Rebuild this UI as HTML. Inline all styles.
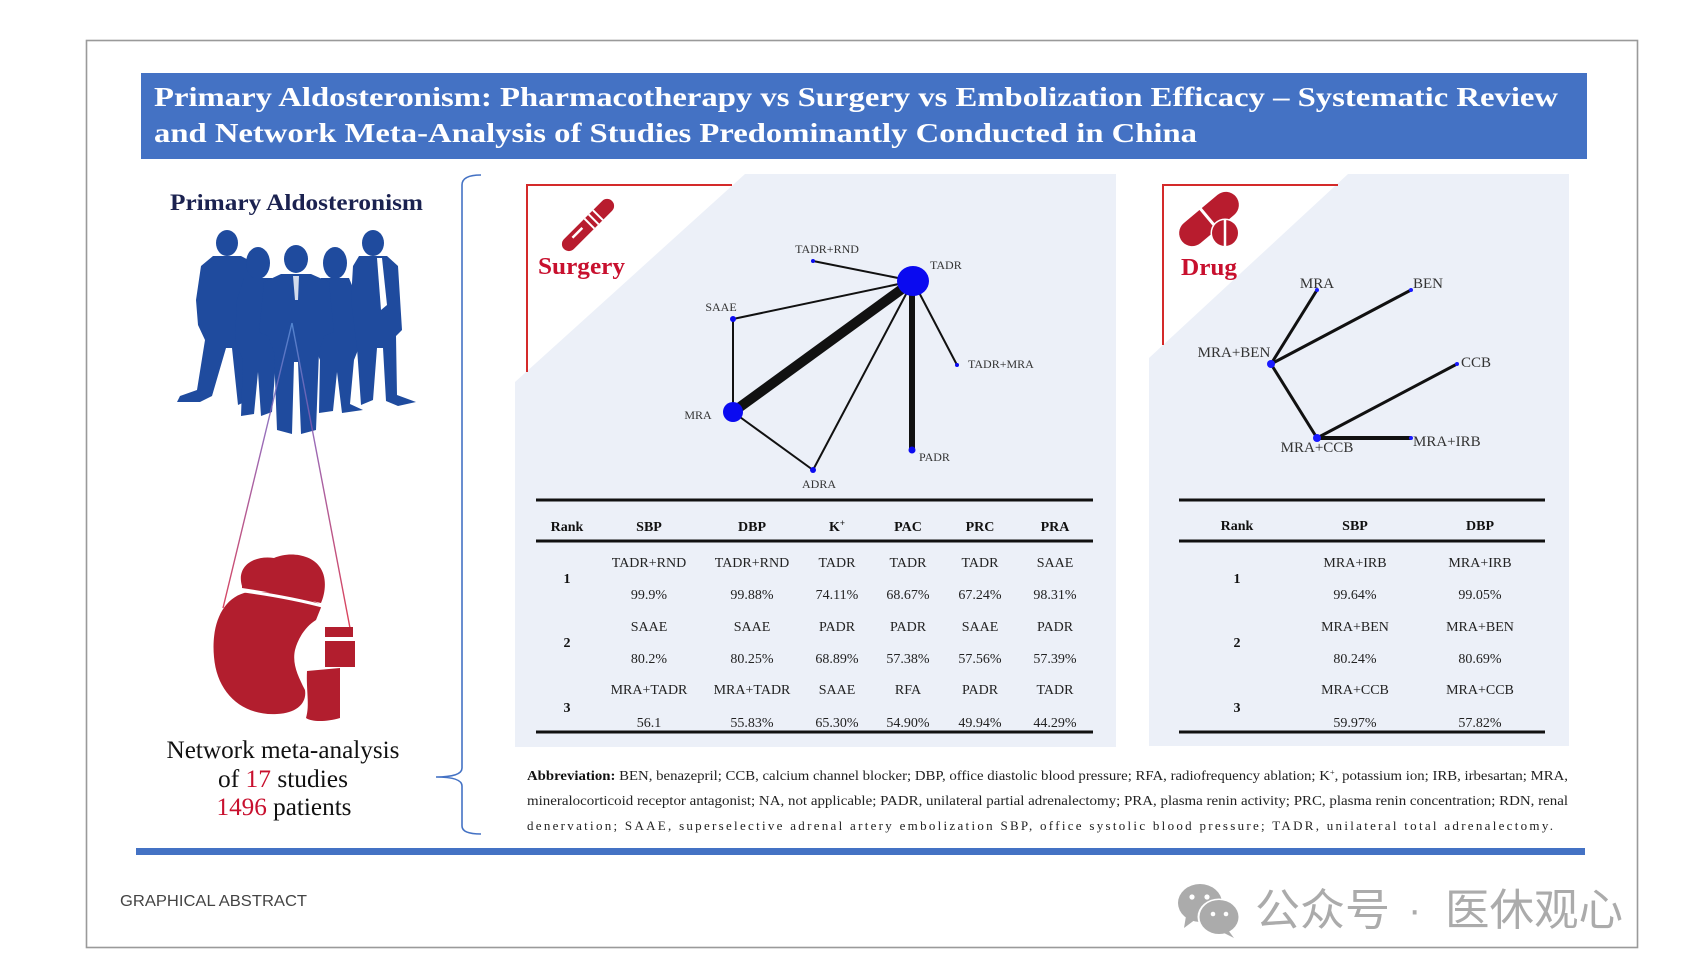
<!DOCTYPE html>
<html><head><meta charset="utf-8"><style>
html,body{margin:0;padding:0;background:#fff;}
svg{display:block;}
.serif{font-family:"Liberation Serif","Times New Roman",serif;}
</style></head><body>
<svg width="1683" height="977" viewBox="0 0 1683 977" xmlns="http://www.w3.org/2000/svg">
<defs>
<linearGradient id="lg" x1="0" y1="0" x2="0" y2="1">
<stop offset="0" stop-color="#5b8fd8"/><stop offset="0.4" stop-color="#8a4fa8"/><stop offset="1" stop-color="#d8203a"/>
</linearGradient>
</defs>
<rect x="0" y="0" width="1683" height="977" fill="#fff"/>
<rect x="86.5" y="40.5" width="1551" height="907" fill="none" stroke="#9a9a9a" stroke-width="1.6"/>

<rect x="141" y="73" width="1446" height="86" fill="#4472c4"/>
<g class="serif" font-weight="bold" fill="#fff" font-size="27">
<text x="154" y="106" textLength="1404" lengthAdjust="spacingAndGlyphs">Primary Aldosteronism: Pharmacotherapy vs Surgery vs Embolization Efficacy – Systematic Review</text>
<text x="154" y="142" textLength="1043" lengthAdjust="spacingAndGlyphs">and Network Meta-Analysis of Studies Predominantly Conducted in China</text>
</g>

<text class="serif" x="170" y="210" font-size="23" font-weight="bold" fill="#1b2250" textLength="253" lengthAdjust="spacingAndGlyphs">Primary Aldosteronism</text>

<g fill="#1f4b9e">
<ellipse cx="227" cy="243" rx="11" ry="13"/>
<path d="M213 256 L241 256 L256 264 L261 300 L257 340 L251 346 L249 400 L238 405 L232 348 L226 348 L212 396 L200 402 L177 402 L180 396 L197 390 L205 340 L198 325 L196 300 L201 266 Z"/>
<ellipse cx="258" cy="263" rx="12" ry="16"/>
<path d="M244 278 L272 278 L281 300 L284 340 L276 360 L272 412 L261 416 L258 372 L254 414 L241 416 L243 360 L235 340 L237 300 Z"/>
<ellipse cx="335" cy="263" rx="12" ry="16"/>
<path d="M321 278 L349 278 L358 300 L362 340 L354 360 L350 404 L363 410 L342 413 L337 372 L333 411 L319 413 L320 360 L312 340 L314 300 Z"/>
<ellipse cx="373" cy="243" rx="11" ry="13"/>
<path d="M359 256 L387 256 L398 266 L402 330 L396 336 L397 395 L416 402 L398 406 L386 401 L383 348 L377 348 L373 400 L361 405 L357 348 L351 300 L353 266 Z"/>
<ellipse cx="296" cy="259" rx="12" ry="14"/>
<path d="M281 274 L311 274 L329 282 L334 332 L324 336 L319 352 L316 430 L301 434 L298 362 L294 362 L292 434 L277 430 L274 352 L268 336 L259 332 L264 282 Z"/>
</g>
<path d="M377 258 L382 258 L387 305 L381 310 Z" fill="#fff"/>
<path d="M293 276 L299 276 L298 300 L295 300 Z" fill="#fff" opacity="0.8"/>

<path d="M292 323 L223 608 M292 323 L350 628" stroke="url(#lg)" stroke-width="1.4" fill="none" opacity="0.85"/>

<g fill="#b21e2e">
<path d="M248 592 C 222 597 211 625 214 657 C 217 693 242 716 277 714 C 297 713 307 703 305 690 C 298 676 292 664 295 650 C 298 638 306 626 316 620 L 322 605 C 308 598 280 591 248 592 Z"/>
<path d="M242 586 C 236 566 254 555 274 558 C 290 551 311 555 319 566 C 328 577 325 594 321 603 C 300 598 270 592 242 588 Z"/>
<rect x="325" y="627" width="28" height="10"/>
<rect x="325" y="641" width="30" height="26"/>
<path d="M307 671 L340 668 L340 718 C 326 722 312 722 306 718 C 310 705 306 690 307 671 Z"/>
</g>
<path d="M236 590 C 268 594 300 600 326 607" stroke="#fff" stroke-width="3" fill="none"/>
<path d="M300 648 C 308 640 316 652 318 668" stroke="#fff" stroke-width="3" fill="none"/>

<g class="serif" font-size="25" fill="#111" text-anchor="middle">
<text x="283" y="758" textLength="233" lengthAdjust="spacingAndGlyphs">Network meta-analysis</text>
<text x="283" y="787" textLength="130" lengthAdjust="spacingAndGlyphs">of <tspan fill="#c8102e">17</tspan> studies</text>
<text x="284" y="815" textLength="135" lengthAdjust="spacingAndGlyphs"><tspan fill="#c8102e">1496</tspan> patients</text>
</g>

<path d="M481 175 Q 462 175 462 185 L462 768 Q 462 777 436 777 Q 462 777 462 786 L462 826 Q 462 834 481 834" fill="none" stroke="#4472c4" stroke-width="1.6"/>

<polygon points="745,174 1116,174 1116,747 515,747 515,382" fill="#ecf0f8"/>
<path d="M527 372 L527 185 L732 185" fill="none" stroke="#d42a2a" stroke-width="2"/>
<g transform="translate(588,225) rotate(-45)">
<rect x="-34" y="-7" width="68" height="14" rx="7" fill="#b81c2e"/>
<path d="M2 -7 L2 7 M8 -7 L8 7 M14 -7 L14 7" stroke="#fff" stroke-width="2"/>
<path d="M-20 -2 L-6 -2" stroke="#fff" stroke-width="2.5"/>
</g>
<text class="serif" x="538" y="274" font-size="24" font-weight="bold" fill="#c8102e" textLength="87" lengthAdjust="spacingAndGlyphs">Surgery</text>

<g stroke="#111" fill="none" stroke-linecap="round">
<line x1="913" y1="281" x2="813" y2="261" stroke-width="2"/>
<line x1="913" y1="281" x2="733" y2="319" stroke-width="2"/>
<line x1="913" y1="281" x2="733" y2="412" stroke-width="10" stroke-linecap="butt"/>
<line x1="913" y1="281" x2="813" y2="470" stroke-width="2"/>
<line x1="912" y1="281" x2="912" y2="450" stroke-width="6" stroke-linecap="butt"/>
<line x1="913" y1="281" x2="957" y2="365" stroke-width="2"/>
<line x1="733" y1="319" x2="733" y2="412" stroke-width="2"/>
<line x1="733" y1="412" x2="813" y2="470" stroke-width="2"/>
</g>
<g fill="#0a0af0">
<ellipse cx="913" cy="281" rx="16" ry="15"/>
<circle cx="733" cy="412" r="10"/>
<circle cx="813" cy="261" r="2"/>
<circle cx="733" cy="319" r="3"/>
<circle cx="957" cy="365" r="2"/>
<circle cx="912" cy="450" r="3.5"/>
<circle cx="813" cy="470" r="3"/>
</g>
<g class="serif" font-size="12" fill="#333">
<text x="827" y="253" text-anchor="middle">TADR+RND</text>
<text x="930" y="269">TADR</text>
<text x="721" y="311" text-anchor="middle">SAAE</text>
<text x="968" y="368">TADR+MRA</text>
<text x="698" y="419" text-anchor="middle">MRA</text>
<text x="919" y="461">PADR</text>
<text x="819" y="488" text-anchor="middle">ADRA</text>
</g>

<g stroke="#111" stroke-width="3">
<line x1="536" y1="500" x2="1093" y2="500"/>
<line x1="536" y1="541" x2="1093" y2="541"/>
<line x1="536" y1="732" x2="1093" y2="732"/>
</g>
<g class="serif" font-size="14" font-weight="bold" fill="#111" text-anchor="middle">
<text x="567" y="531">Rank</text>
<text x="649" y="531">SBP</text>
<text x="752" y="531">DBP</text>
<text x="837" y="531">K<tspan font-size="9" dy="-5">+</tspan></text>
<text x="908" y="531">PAC</text>
<text x="980" y="531">PRC</text>
<text x="1055" y="531">PRA</text>
<text x="567" y="583">1</text>
<text x="567" y="647">2</text>
<text x="567" y="712">3</text>
</g>
<g class="serif" font-size="14" fill="#222" text-anchor="middle">
<text x="649" y="567">TADR+RND</text><text x="752" y="567">TADR+RND</text><text x="837" y="567">TADR</text><text x="908" y="567">TADR</text><text x="980" y="567">TADR</text><text x="1055" y="567">SAAE</text>
<text x="649" y="599">99.9%</text><text x="752" y="599">99.88%</text><text x="837" y="599">74.11%</text><text x="908" y="599">68.67%</text><text x="980" y="599">67.24%</text><text x="1055" y="599">98.31%</text>
<text x="649" y="631">SAAE</text><text x="752" y="631">SAAE</text><text x="837" y="631">PADR</text><text x="908" y="631">PADR</text><text x="980" y="631">SAAE</text><text x="1055" y="631">PADR</text>
<text x="649" y="663">80.2%</text><text x="752" y="663">80.25%</text><text x="837" y="663">68.89%</text><text x="908" y="663">57.38%</text><text x="980" y="663">57.56%</text><text x="1055" y="663">57.39%</text>
<text x="649" y="694">MRA+TADR</text><text x="752" y="694">MRA+TADR</text><text x="837" y="694">SAAE</text><text x="908" y="694">RFA</text><text x="980" y="694">PADR</text><text x="1055" y="694">TADR</text>
<text x="649" y="727">56.1</text><text x="752" y="727">55.83%</text><text x="837" y="727">65.30%</text><text x="908" y="727">54.90%</text><text x="980" y="727">49.94%</text><text x="1055" y="727">44.29%</text>
</g>

<polygon points="1348,174 1569,174 1569,746 1149,746 1149,358" fill="#ecf0f8"/>
<path d="M1163 345 L1163 185 L1338 185" fill="none" stroke="#d42a2a" stroke-width="2"/>
<g transform="translate(1209,219) rotate(-40)">
<rect x="-35" y="-13" width="70" height="26" rx="13" fill="#b81c2e"/>
<line x1="0" y1="-14" x2="0" y2="14" stroke="#fff" stroke-width="3"/>
</g>
<circle cx="1225" cy="233" r="14.5" fill="#fff"/>
<circle cx="1225" cy="233" r="13" fill="#b81c2e"/>
<line x1="1225" y1="220" x2="1225" y2="246" stroke="#fff" stroke-width="2.5"/>
<text class="serif" x="1181" y="275" font-size="24" font-weight="bold" fill="#c8102e" textLength="56" lengthAdjust="spacingAndGlyphs">Drug</text>

<g stroke="#111" stroke-width="3" fill="none">
<line x1="1271" y1="364" x2="1317" y2="290"/>
<line x1="1271" y1="364" x2="1411" y2="290"/>
<line x1="1271" y1="364" x2="1317" y2="438"/>
<line x1="1317" y1="438" x2="1457" y2="364"/>
<line x1="1317" y1="438" x2="1411" y2="438" stroke-width="4"/>
</g>
<g fill="#1a1aff">
<circle cx="1271" cy="364" r="4"/>
<circle cx="1317" cy="438" r="4"/>
<circle cx="1317" cy="290" r="2"/>
<circle cx="1411" cy="290" r="2"/>
<circle cx="1457" cy="364" r="2"/>
<circle cx="1411" cy="438" r="2"/>
</g>
<g class="serif" font-size="15" fill="#333">
<text x="1317" y="288" text-anchor="middle">MRA</text>
<text x="1413" y="288">BEN</text>
<text x="1234" y="357" text-anchor="middle">MRA+BEN</text>
<text x="1461" y="367">CCB</text>
<text x="1317" y="452" text-anchor="middle">MRA+CCB</text>
<text x="1413" y="446">MRA+IRB</text>
</g>

<g stroke="#111" stroke-width="3">
<line x1="1179" y1="500" x2="1545" y2="500"/>
<line x1="1179" y1="541" x2="1545" y2="541"/>
<line x1="1179" y1="732" x2="1545" y2="732"/>
</g>
<g class="serif" font-size="14" font-weight="bold" fill="#111" text-anchor="middle">
<text x="1237" y="530">Rank</text>
<text x="1355" y="530">SBP</text>
<text x="1480" y="530">DBP</text>
<text x="1237" y="583">1</text>
<text x="1237" y="647">2</text>
<text x="1237" y="712">3</text>
</g>
<g class="serif" font-size="14" fill="#222" text-anchor="middle">
<text x="1355" y="567">MRA+IRB</text><text x="1480" y="567">MRA+IRB</text>
<text x="1355" y="599">99.64%</text><text x="1480" y="599">99.05%</text>
<text x="1355" y="631">MRA+BEN</text><text x="1480" y="631">MRA+BEN</text>
<text x="1355" y="663">80.24%</text><text x="1480" y="663">80.69%</text>
<text x="1355" y="694">MRA+CCB</text><text x="1480" y="694">MRA+CCB</text>
<text x="1355" y="727">59.97%</text><text x="1480" y="727">57.82%</text>
</g>

<g class="serif" font-size="14" fill="#222">
<text x="527" y="780" textLength="1041" lengthAdjust="spacingAndGlyphs"><tspan font-weight="bold" fill="#111">Abbreviation:</tspan> BEN, benazepril; CCB, calcium channel blocker; DBP, office diastolic blood pressure; RFA, radiofrequency ablation; K<tspan font-size="8" dy="-5">+</tspan><tspan dy="5">, potassium ion; IRB, irbesartan; MRA,</tspan></text>
<text x="527" y="805" textLength="1041" lengthAdjust="spacingAndGlyphs">mineralocorticoid receptor antagonist; NA, not applicable; PADR, unilateral partial adrenalectomy; PRA, plasma renin activity; PRC, plasma renin concentration; RDN, renal</text>
<text x="527" y="830" font-size="13" textLength="1026" lengthAdjust="spacing">denervation; SAAE, superselective adrenal artery embolization SBP, office systolic blood pressure; TADR, unilateral total adrenalectomy.</text>
</g>

<rect x="136" y="848" width="1449" height="7" fill="#4472c4"/>

<text x="120" y="906" font-family="Liberation Sans, Arial, sans-serif" font-size="16" fill="#444" textLength="187" lengthAdjust="spacingAndGlyphs">GRAPHICAL ABSTRACT</text>

<g fill="#ababab">
<ellipse cx="1200" cy="903" rx="22" ry="19"/>
<path d="M1186 916 L1184 928 L1196 919 Z"/>
</g>
<ellipse cx="1219" cy="917" rx="21.5" ry="18.5" fill="#fff"/>
<g fill="#ababab">
<ellipse cx="1219" cy="917" rx="19.5" ry="17"/>
<path d="M1228 930 L1234 938 L1222 932 Z"/>
</g>
<g fill="#fff">
<circle cx="1192" cy="897" r="2.6"/><circle cx="1207" cy="897" r="2.6"/>
<circle cx="1213" cy="914" r="2.3"/><circle cx="1226" cy="914" r="2.3"/>
</g>
<g font-family="Liberation Sans, 'Noto Sans CJK SC', sans-serif" font-size="44" fill="#ababab">
<text x="1255" y="925" textLength="135" lengthAdjust="spacingAndGlyphs">公众号</text>
<text x="1408" y="923" font-size="40">·</text>
<text x="1445" y="925" textLength="178" lengthAdjust="spacingAndGlyphs">医休观心</text>
</g>
</svg>
</body></html>
